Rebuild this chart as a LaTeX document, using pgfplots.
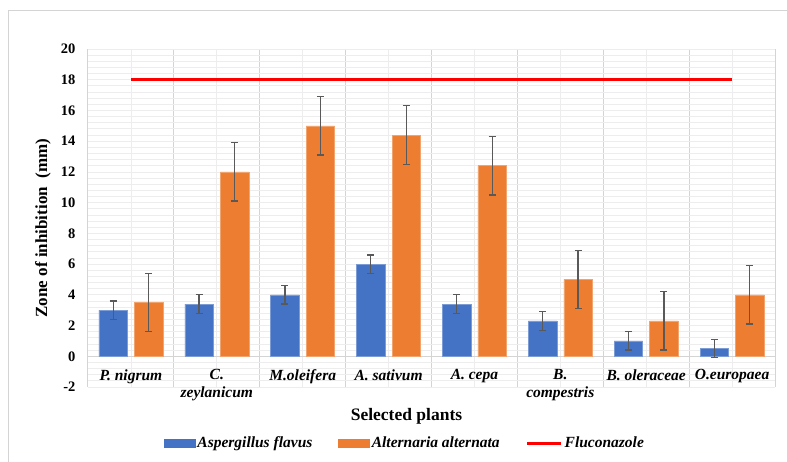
\documentclass[border=0pt]{standalone}
\usepackage{fontspec}
\setmainfont{Liberation Serif}
\usepackage{pgfplots}
\pgfplotsset{compat=1.18}
\definecolor{cblue}{HTML}{4472C4}
\definecolor{corange}{HTML}{ED7D31}
\definecolor{cred}{HTML}{FF0000}
\definecolor{errgray}{HTML}{595959}
\definecolor{gmajor}{HTML}{D4D4D4}
\definecolor{gminor}{HTML}{EDEDED}
\begin{document}
\begin{tikzpicture}
\useasboundingbox (-88pt,-74pt) rectangle (699pt,387pt);
\draw[gmajor, line width=1pt] (-79pt,-90pt) -- (-79pt,376pt) -- (720pt,376pt);
\begin{axis}[
  scale only axis,
  width=687pt, height=338pt,
  xmin=-0.5, xmax=7.5,
  ymin=-2, ymax=20,
  ytick={-2,0,...,20},
  minor y tick num=4,
  xtick={0,...,7},
  minor xtick={-0.5,0.5,...,7.5},
  xticklabels={{P. nigrum},{C.\\zeylanicum},{M.oleifera},{A. sativum},{A. cepa},{B.\\compestris},{B. oleraceae},{O.europaea}},
  grid=both,
  major x grid style={gminor, line width=0.8pt},
  minor x grid style={gmajor, line width=1pt},
  major y grid style={gminor, line width=0.8pt},
  minor y grid style={gminor, line width=0.8pt},
  axis line style={draw=none},
  major tick length=0pt, minor tick length=0pt,
  tick style={draw=none},
  clip=false,
  /pgf/number format/assume math mode=true,
  yticklabel style={font=\fontsize{14.5}{17}\selectfont\bfseries, xshift=-9pt},
  xticklabel style={font=\fontsize{15.5}{18}\selectfont\bfseries\itshape, align=center, yshift=21pt},
  every axis x label/.style={at={(axis description cs:0.4636,-0.0879)}, anchor=center},
  every axis y label/.style={at={(axis description cs:-0.0655,0.47)}, rotate=90, anchor=center},
  xlabel={\fontsize{17.5}{20}\selectfont\bfseries Selected plants},
  ylabel={\fontsize{17}{20}\selectfont\bfseries Zone of inhibition\ \ (mm)},
  legend style={at={(axis description cs:0.4614,-0.1657)}, anchor=center, draw=none, fill=none,
    font=\fontsize{15.5}{18}\selectfont\bfseries\itshape, legend columns=3,
    /tikz/every even column/.append style={column sep=24pt}},
]
\draw[gmajor, line width=1pt] (axis cs:-0.5,0) -- (axis cs:7.5,0);
\addplot[ybar, bar width=28.5pt, bar shift=0pt, fill=cblue, draw=cblue!70!white, line width=0.6pt, forget plot,
  error bars/.cd, y dir=both, y explicit,
  error bar style={errgray, line width=1.3pt},
  error mark options={errgray, line width=1.3pt, mark size=3.5pt, rotate=90}]
coordinates {
(-0.2067,3.0) +- (0,0.6)
(0.7933,3.4) +- (0,0.6)
(1.7933,4.0) +- (0,0.6)
(2.7933,6.0) +- (0,0.6)
(3.7933,3.4) +- (0,0.6)
(4.7933,2.3) +- (0,0.6)
(5.7933,1.0) +- (0,0.6)
(6.7933,0.5) +- (0,0.6)
};
\addplot[ybar, bar width=28.5pt, bar shift=0pt, fill=corange, draw=corange!70!white, line width=0.6pt, forget plot,
  error bars/.cd, y dir=both, y explicit,
  error bar style={errgray, line width=1.3pt},
  error mark options={errgray, line width=1.3pt, mark size=3.5pt, rotate=90}]
coordinates {
(0.2067,3.5) +- (0,1.9)
(1.2067,12.0) +- (0,1.9)
(2.2067,15.0) +- (0,1.9)
(3.2067,14.4) +- (0,1.9)
(4.2067,12.4) +- (0,1.9)
(5.2067,5.0) +- (0,1.9)
(6.2067,2.3) +- (0,1.9)
(7.2067,4.0) +- (0,1.9)
};
\addplot[cred, line width=3.2pt, mark=none, forget plot]
coordinates {(0,18) (1,18) (2,18) (3,18) (4,18) (5,18) (6,18) (7,18)};
\addlegendimage{legend image code/.code={\fill[cblue] (0pt,-4pt) rectangle (31pt,4pt);}}
\addlegendentry{Aspergillus flavus}
\addlegendimage{legend image code/.code={\fill[corange] (0pt,-4pt) rectangle (31pt,4pt);}}
\addlegendentry{Alternaria alternata}
\addlegendimage{legend image code/.code={\draw[cred, line width=3pt] (0pt,0pt) -- (34pt,0pt);}}
\addlegendentry{Fluconazole}
\end{axis}
\end{tikzpicture}
\end{document}
